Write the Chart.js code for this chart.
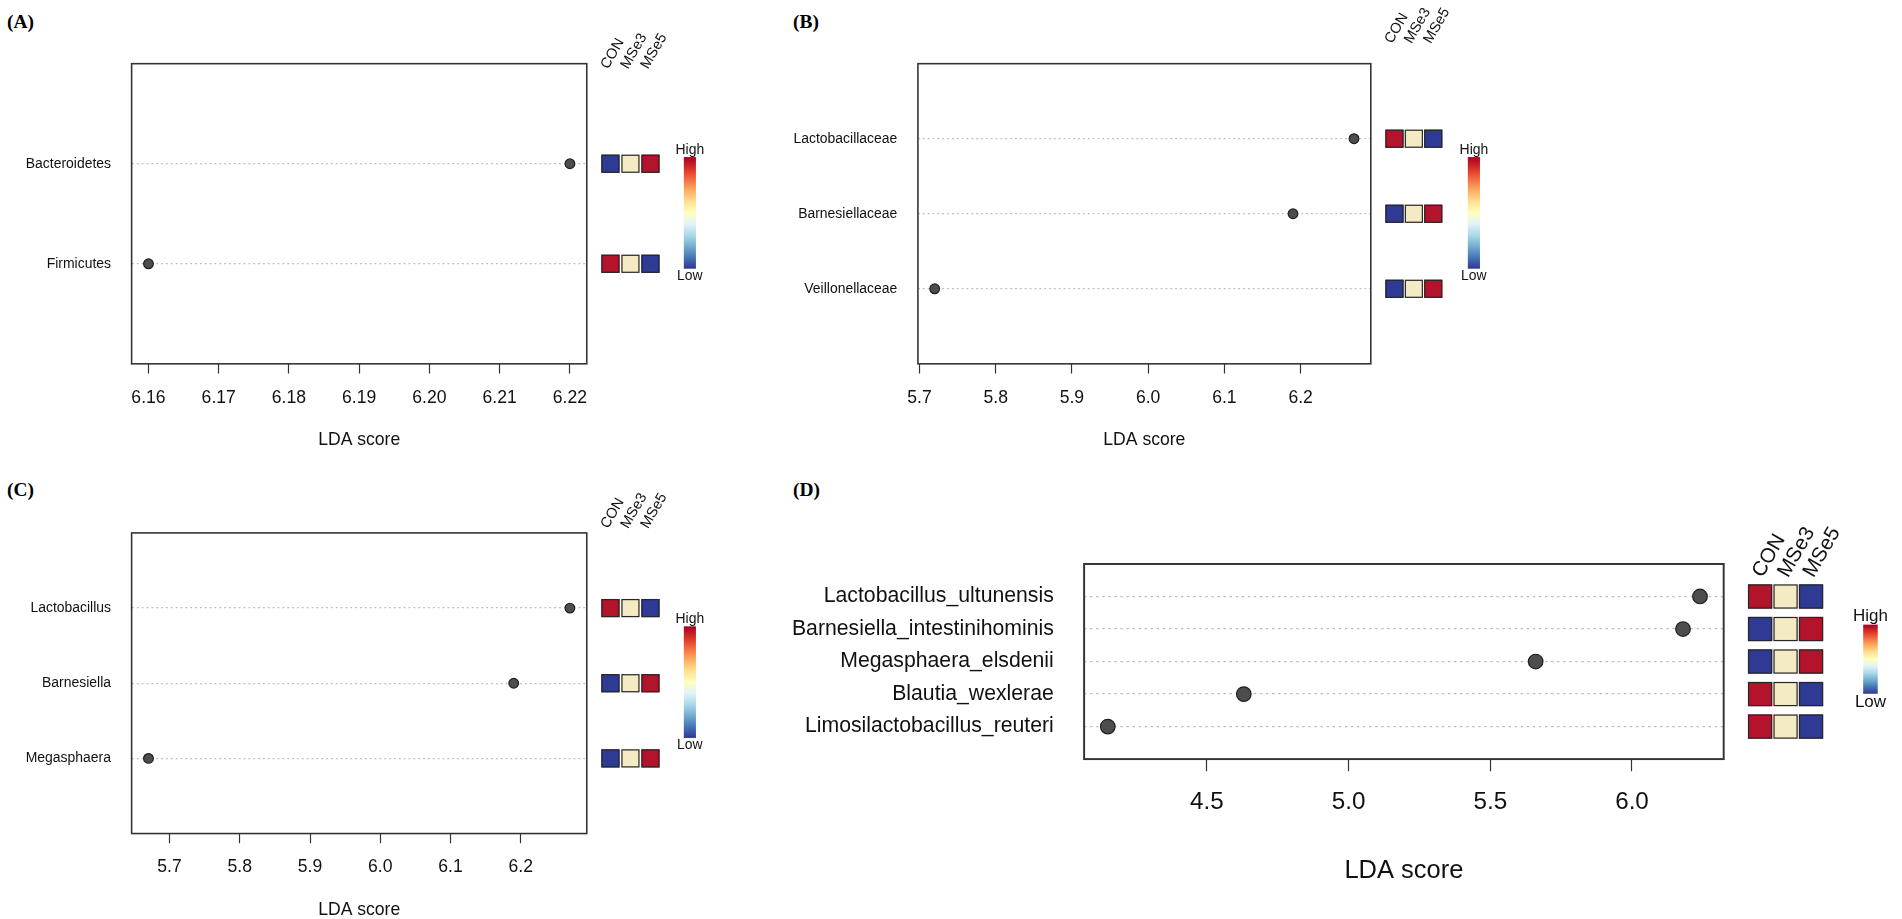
<!DOCTYPE html>
<html>
<head>
<meta charset="utf-8">
<script src="https://cdn.jsdelivr.net/npm/chart.js@4.4.1/dist/chart.umd.min.js"></script>
<style>
  body { margin: 0; background: #fff; width: 1902px; height: 919px; position: relative; overflow: hidden; }
  canvas { position: absolute; }
  .tag { position: absolute; font: bold 19.4px 'Liberation Serif', 'Times New Roman', serif; line-height: 19.4px; color: #000; }
</style>
</head>
<body>
<div class="tag" style="left:7px;top:12px">(A)</div>
<div class="tag" style="left:793px;top:12px">(B)</div>
<div class="tag" style="left:7px;top:480px">(C)</div>
<div class="tag" style="left:793px;top:480px">(D)</div>

<canvas id="cA"></canvas>
<canvas id="cB"></canvas>
<canvas id="cC"></canvas>
<canvas id="cD"></canvas>

<script>
// data (top row first)
const taxaA = ['Bacteroidetes', 'Firmicutes'];
const ldaA = [6.22, 6.16];
const heatA = [[0, 1, 2], [2, 1, 0]];
const ticksA = [6.16, 6.17, 6.18, 6.19, 6.20, 6.21, 6.22];

const taxaB = ['Lactobacillaceae', 'Barnesiellaceae', 'Veillonellaceae'];
const ldaB = [6.27, 6.19, 5.72];
const heatB = [[2, 1, 0], [0, 1, 2], [0, 1, 2]];
const ticksB = [5.7, 5.8, 5.9, 6.0, 6.1, 6.2];

const taxaC = ['Lactobacillus', 'Barnesiella', 'Megasphaera'];
const ldaC = [6.27, 6.19, 5.67];
const heatC = [[2, 1, 0], [0, 1, 2], [0, 1, 2]];
const ticksC = [5.7, 5.8, 5.9, 6.0, 6.1, 6.2];

const taxaD = ['Lactobacillus_ultunensis', 'Barnesiella_intestinihominis', 'Megasphaera_elsdenii', 'Blautia_wexlerae', 'Limosilactobacillus_reuteri'];
const ldaD = [6.24, 6.18, 5.66, 4.63, 4.15];
const heatD = [[2, 1, 0], [0, 1, 2], [0, 1, 2], [2, 1, 0], [2, 1, 0]];
const ticksD = [4.5, 5.0, 5.5, 6.0];

const groups = ['CON', 'MSe3', 'MSe5'];
const keyLabels = ['High', 'Low'];
const heatColours = ['#2f3a94', '#f4eac4', '#b3142c'];   // low, mid, high
const keyStops = ['#a50026', '#d73027', '#f46d43', '#fdae61', '#fee090', '#ffffbf',
                  '#e0f3f8', '#abd9e9', '#74add1', '#4575b4', '#313695'];

const SANS = "'Liberation Sans', Arial, sans-serif";

// sizes below were measured on a 1568px wide copy of the figure
const K = 1902 / 1568;
function sc(o) {
  if (typeof o === 'number') return o * K;
  if (Array.isArray(o)) return o.map(sc);
  if (o && typeof o === 'object') {
    const r = {};
    for (const k in o) r[k] = sc(o[k]);
    return r;
  }
  return o;
}

// narrow face for the small row labels if it is there
function hasFont(name) {
  const c = document.createElement('canvas').getContext('2d');
  c.font = '20px monospace';
  const a = c.measureText('Bacteroidetes_mw').width;
  c.font = `20px '${name}', monospace`;
  return c.measureText('Bacteroidetes_mw').width !== a;
}
const smallLabel = hasFont('Liberation Sans Narrow')
  ? { family: "'Liberation Sans Narrow', 'Liberation Sans', sans-serif", size: 13.5 }
  : { family: SANS, size: 11.5 };

Chart.defaults.font.family = SANS;
Chart.defaults.color = '#111';

// frame, abundance cells, group names and colour key
const heatPlugin = {
  id: 'heat',
  afterDraw(chart, args, o) {
    const { ctx, chartArea: a } = chart;
    const y = chart.scales.y;
    ctx.save();
    ctx.strokeStyle = '#333';
    ctx.lineWidth = o.frame;
    ctx.strokeRect(a.left, a.top, a.right - a.left, a.bottom - a.top);

    const n = o.heat.length;
    o.heat.forEach((row, i) => {
      const yc = y.getPixelForValue(n - i);
      row.forEach((lvl, j) => {
        const x0 = a.right + o.cellGap + j * o.cellStep;
        ctx.fillStyle = heatColours[lvl];
        ctx.fillRect(x0, yc - o.cell / 2, o.cell, o.cell);
        ctx.strokeStyle = '#262626';
        ctx.lineWidth = 1.2;
        ctx.strokeRect(x0 + 0.6, yc - o.cell / 2 + 0.6, o.cell - 1.2, o.cell - 1.2);
      });
    });

    ctx.fillStyle = '#111';
    ctx.font = `${o.groupSize}px ${SANS}`;
    ctx.textAlign = 'left';
    ctx.textBaseline = 'alphabetic';
    groups.forEach((g, j) => {
      const cx = a.right + o.cellGap + j * o.cellStep + o.cell / 2 + o.groupDx;
      ctx.save();
      ctx.translate(cx, a.top + o.groupDy);
      ctx.rotate(-Math.PI / 3);
      ctx.fillText(g, 0, 0);
      ctx.restore();
    });

    const bx = a.right + o.barGap, by0 = a.top + o.barTop, by1 = a.top + o.barBottom;
    const grad = ctx.createLinearGradient(0, by0, 0, by1);
    keyStops.forEach((c, k) => grad.addColorStop(k / (keyStops.length - 1), c));
    ctx.fillStyle = grad;
    ctx.fillRect(bx, by0, o.barW, by1 - by0);
    ctx.fillStyle = '#111';
    ctx.font = `${o.keySize}px ${SANS}`;
    ctx.textAlign = 'center';
    ctx.textBaseline = 'middle';
    ctx.fillText(keyLabels[0], bx + o.barW / 2, by0 - o.keyOff);
    ctx.fillText(keyLabels[1], bx + o.barW / 2, by1 + o.keyOff);
    ctx.restore();
  }
};

function makePanel(id, box, names, vals, heat, ticks, dec, geo) {
  const g = sc(geo);
  const cv = document.getElementById(id);
  cv.width = Math.round(box[2] * K);
  cv.height = Math.round(box[3] * K);
  cv.style.left = (box[0] * K) + 'px';
  cv.style.top = (box[1] * K) + 'px';

  const n = names.length;
  const lo = Math.min(...vals), hi = Math.max(...vals), ext = (hi - lo) * 0.04;
  return new Chart(cv, {
    type: 'scatter',
    data: {
      datasets: [{
        data: vals.map((v, i) => ({ x: v, y: n - i })),
        pointRadius: g.dot,
        backgroundColor: '#4d4d4d',
        borderColor: '#1e1e1e',
        borderWidth: 1.2
      }]
    },
    options: {
      responsive: false,
      animation: false,
      devicePixelRatio: 1,
      layout: { padding: g.pad },
      plugins: {
        legend: { display: false },
        tooltip: { enabled: false },
        heat: Object.assign({ heat: heat }, g.heat)
      },
      scales: {
        x: {
          type: 'linear',
          min: lo - ext,
          max: hi + ext,
          afterBuildTicks: s => { s.ticks = ticks.map(v => ({ value: v })); },
          afterFit: s => { s.height = g.xh; },
          ticks: { callback: v => Number(v).toFixed(dec), font: { size: g.tickSize }, padding: g.tickPad, maxRotation: 0, autoSkip: false },
          grid: { drawOnChartArea: false, drawTicks: true, tickLength: g.tickLen, tickColor: '#333', tickWidth: 1.2 },
          border: { display: false },
          title: { display: true, text: 'LDA score', font: { size: g.titleSize }, padding: 0 }
        },
        y: {
          type: 'linear',
          min: 0,
          max: n + 1,
          afterBuildTicks: s => { s.ticks = names.map((_, i) => ({ value: n - i })); },
          afterFit: s => { s.width = g.yw; },
          ticks: { callback: v => names[n - v], font: g.labelFont, padding: g.labelPad, autoSkip: false },
          grid: { color: '#bdbdbd', lineWidth: 1.2, drawTicks: false, borderDash: g.dash },
          border: { display: false, dash: g.dash }
        }
      }
    },
    plugins: [heatPlugin]
  });
}

const smallHeat = { frame: 1.3, cellGap: 12, cell: 15, cellStep: 16.5, groupDx: -2, groupDy: 5, groupSize: 12,
                    barGap: 80, barW: 10, barTop: 77, barBottom: 169, keyOff: 6, keySize: 11.5 };

makePanel('cA', [0, 0, 640, 390], taxaA, ldaA, heatA, ticksA, 2, {
  dot: 4, yw: 108.5, xh: 71.7, pad: { left: 0, top: 52.5, right: 156, bottom: 18.3 },
  tickSize: 14.5, tickPad: 11.3, tickLen: 8, titleSize: 14.5,
  labelFont: smallLabel, labelPad: 17, dash: [1.5, 2.5],
  heat: smallHeat
});

makePanel('cB', [640, 0, 660, 390], taxaB, ldaB, heatB, ticksB, 1, {
  dot: 4, yw: 117, xh: 71.7, pad: { left: 0, top: 52.5, right: 170, bottom: 18.3 },
  tickSize: 14.5, tickPad: 11.3, tickLen: 8, titleSize: 14.5,
  labelFont: smallLabel, labelPad: 17, dash: [1.5, 2.5],
  heat: Object.assign({}, smallHeat, { cellStep: 16, groupDy: -16 })
});

makePanel('cC', [0, 390, 640, 400], taxaC, ldaC, heatC, ticksC, 1, {
  dot: 4, yw: 108.5, xh: 71.7, pad: { left: 0, top: 49.4, right: 156, bottom: 30.9 },
  tickSize: 14.5, tickPad: 11.3, tickLen: 8, titleSize: 14.5,
  labelFont: smallLabel, labelPad: 17, dash: [1.5, 2.5],
  heat: Object.assign({}, smallHeat, { groupDy: -3 })
});

makePanel('cD', [640, 390, 928, 367], taxaD, ldaD, heatD, ticksD, 1, {
  dot: 6, yw: 254, xh: 104.6, pad: { left: 0, top: 75, right: 147, bottom: 26.4 },
  tickSize: 20, tickPad: 14, tickLen: 10, titleSize: 21,
  labelFont: { family: SANS, size: 17.5 }, labelPad: 25, dash: [2, 3],
  heat: { frame: 1.6, cellGap: 20, cell: 20, cellStep: 21, groupDx: 2, groupDy: 12, groupSize: 17,
          barGap: 115, barW: 12, barTop: 50, barBottom: 107, keyOff: 7, keySize: 14 }
});
</script>
</body>
</html>
